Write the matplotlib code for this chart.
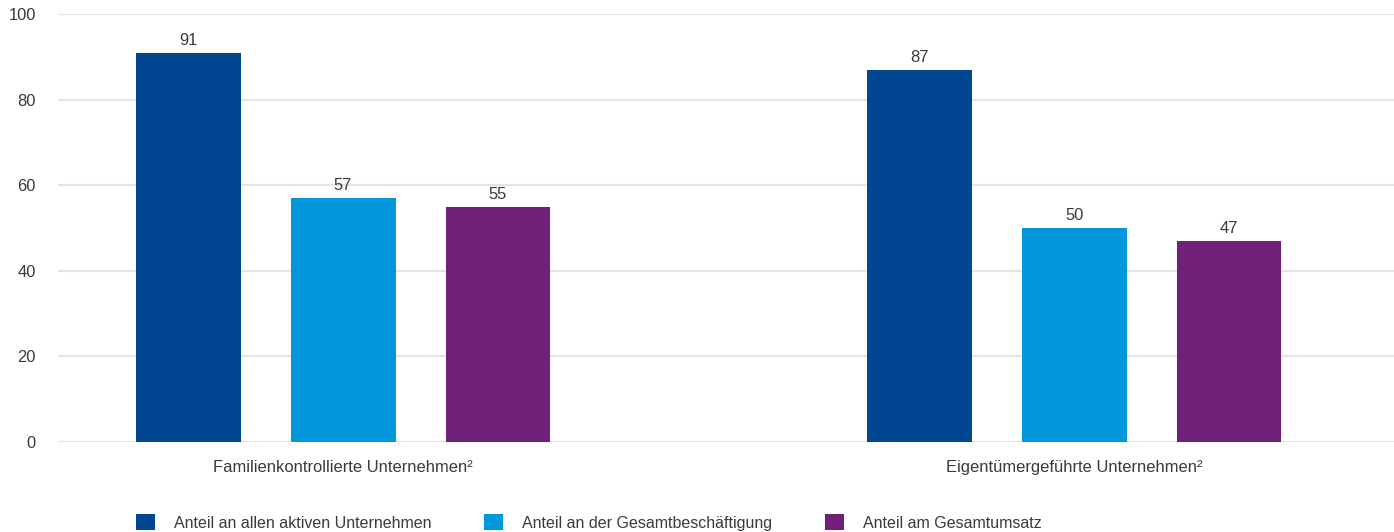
import matplotlib
matplotlib.use("Agg")
import matplotlib.pyplot as plt
from matplotlib.patches import Patch
import numpy as np

plt.rcParams['font.family'] = ['Liberation Sans', 'DejaVu Sans']

categories = ["Familienkontrollierte Unternehmen²", "Eigentümergeführte Unternehmen²"]
series_names = ["Anteil an allen aktiven Unternehmen",
                "Anteil an der Gesamtbeschäftigung",
                "Anteil am Gesamtumsatz"]
series_values = [
    [91, 87],
    [57, 50],
    [55, 47],
]
colors = ["#004690", "#0098DA", "#702079"]
y_ticks = [0, 20, 40, 60, 80, 100]

text_color = "#3a3a3a"
fs = 11.9
W, H = 1394, 532
fig = plt.figure(figsize=(W / 100, H / 100), dpi=100)
ax = fig.add_axes([58 / W, 1 - 442 / H, 1 - 58 / W, (442 - 14) / H])

x = np.arange(len(categories))
offset = 0.212
width = 0.1436
for i, (name, vals, c) in enumerate(zip(series_names, series_values, colors)):
    pos = x + (i - 1) * offset
    bars = ax.bar(pos, vals, width=width, color=c, label=name, zorder=3)
    for b, v in zip(bars, vals):
        ax.annotate(f"{v}", (b.get_x() + b.get_width() / 2, v),
                    xytext=(0, 3.5), textcoords="offset points",
                    ha="center", va="bottom", fontsize=fs, color=text_color)

ax.set_xlim(-0.3899, 1.4377)
ax.set_ylim(0, 100)
ax.set_yticks(y_ticks)
ax.set_xticks(x)
ax.set_xticklabels(categories)
ax.tick_params(axis="both", length=0, labelsize=fs, labelcolor=text_color)
ax.tick_params(axis="y", pad=16)
ax.tick_params(axis="x", pad=13)
ax.grid(axis="y", color="#e4e4e4", linewidth=1.5, zorder=0)
for s in ax.spines.values():
    s.set_visible(False)

leg_fs = 11.5
handles = [Patch(facecolor=c, edgecolor="none") for c in colors]
fig.legend(handles, series_names, loc="upper left",
           bbox_to_anchor=(136 / W, 1 - 514 / H), ncol=3, frameon=False,
           fontsize=leg_fs, handlelength=1.19, handleheight=1.19,
           handletextpad=1.19, columnspacing=3.3, labelcolor=text_color,
           borderaxespad=0, borderpad=0)

fig.savefig("out.png", dpi=100)
